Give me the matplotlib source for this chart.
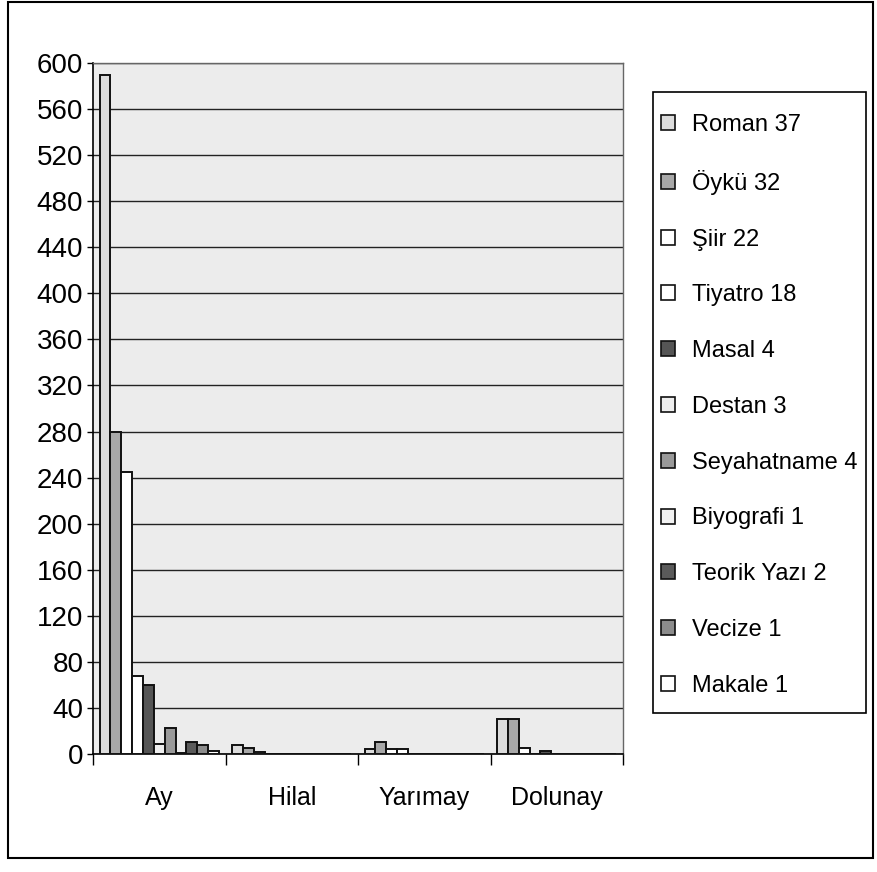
import matplotlib
matplotlib.use("Agg")
import matplotlib.pyplot as plt
from matplotlib.patches import Rectangle
import numpy as np

plt.rcParams['font.family'] = ['Liberation Sans', 'DejaVu Sans']

categories = ['Ay', 'Hilal', 'Yarımay', 'Dolunay']
series_names = ['Roman 37', 'Öykü 32', 'Şiir 22', 'Tiyatro 18', 'Masal 4', 'Destan 3',
                'Seyahatname 4', 'Biyografi 1', 'Teorik Yazı 2', 'Vecize 1', 'Makale 1']
roman = [590, 8, 4, 30]
oyku = [280, 5, 10, 30]
siir = [245, 2, 4, 5]
tiyatro = [68, 0, 4, 0]
masal = [60, 0, 0, 3]
destan = [9, 0, 0, 0]
seyahatname = [23, 0, 0, 0]
biyografi = [1, 0, 0, 0]
teorik = [10, 0, 0, 0]
vecize = [8, 0, 0, 0]
makale = [3, 0, 0, 0]
values = [roman, oyku, siir, tiyatro, masal, destan, seyahatname, biyografi, teorik, vecize, makale]
colors = ['#dcdcdc', '#a8a8a8', '#ffffff', '#ffffff', '#555555', '#eeeeee',
          '#999999', '#f2f2f2', '#5a5a5a', '#8c8c8c', '#ffffff']
yticks = list(range(0, 601, 40))

W, H = 877, 872
fig = plt.figure(figsize=(W / 100, H / 100), dpi=100)
# outer frame
fig.patches.append(Rectangle((8/W, 1-858/H), (873-8)/W, (858-2)/H,
                             transform=fig.transFigure, fill=False, edgecolor='black', lw=1.5))
# legend frame
fig.patches.append(Rectangle((653/W, 1-713/H), (866-653)/W, (713-92)/H,
                             transform=fig.transFigure, fill=True, facecolor='white',
                             edgecolor='black', lw=1.2, zorder=0))

ax = fig.add_axes([93/W, 1-754/H, (623-93)/W, (754-63)/H])
ax.set_facecolor('#ececec')

n = len(values)
w = 0.9 / n
x = np.arange(len(categories))
for i, (vals, c) in enumerate(zip(values, colors)):
    ax.bar(x + 0.05 + i * w, vals, width=w, align='edge', color=c,
           edgecolor='#111111', linewidth=1.4, zorder=3, label=series_names[i])

ax.set_xlim(0, len(categories))
ax.set_ylim(0, 600)
ax.set_yticks(yticks)
ax.yaxis.grid(True, color='#222222', linewidth=1.0, zorder=1)
ax.set_axisbelow(True)
ax.tick_params(axis='y', direction='out', length=4, width=1, pad=3, labelsize=20)
ax.set_xticks(x + 0.5)
ax.set_xticklabels(categories, fontsize=18)
ax.set_xticks(np.arange(len(categories) + 1), minor=True)
ax.tick_params(axis='x', which='major', length=0, pad=23)
ax.tick_params(axis='x', which='minor', direction='out', length=8, width=1)
for s in ['left', 'bottom']:
    ax.spines[s].set_color('black')
    ax.spines[s].set_linewidth(1.2)
for s in ['top', 'right']:
    ax.spines[s].set_color('#666666')
    ax.spines[s].set_linewidth(1.0)

leg = fig.legend(loc='upper left', bbox_to_anchor=(661/W, 1-114/H),
                 fontsize=17, frameon=False, handlelength=0.58, handleheight=0.6,
                 handletextpad=0.75, labelspacing=1.43, borderpad=0, borderaxespad=0)
for h in leg.legend_handles:
    h.set_linewidth(1.2)

fig.savefig('out.png', dpi=100)
